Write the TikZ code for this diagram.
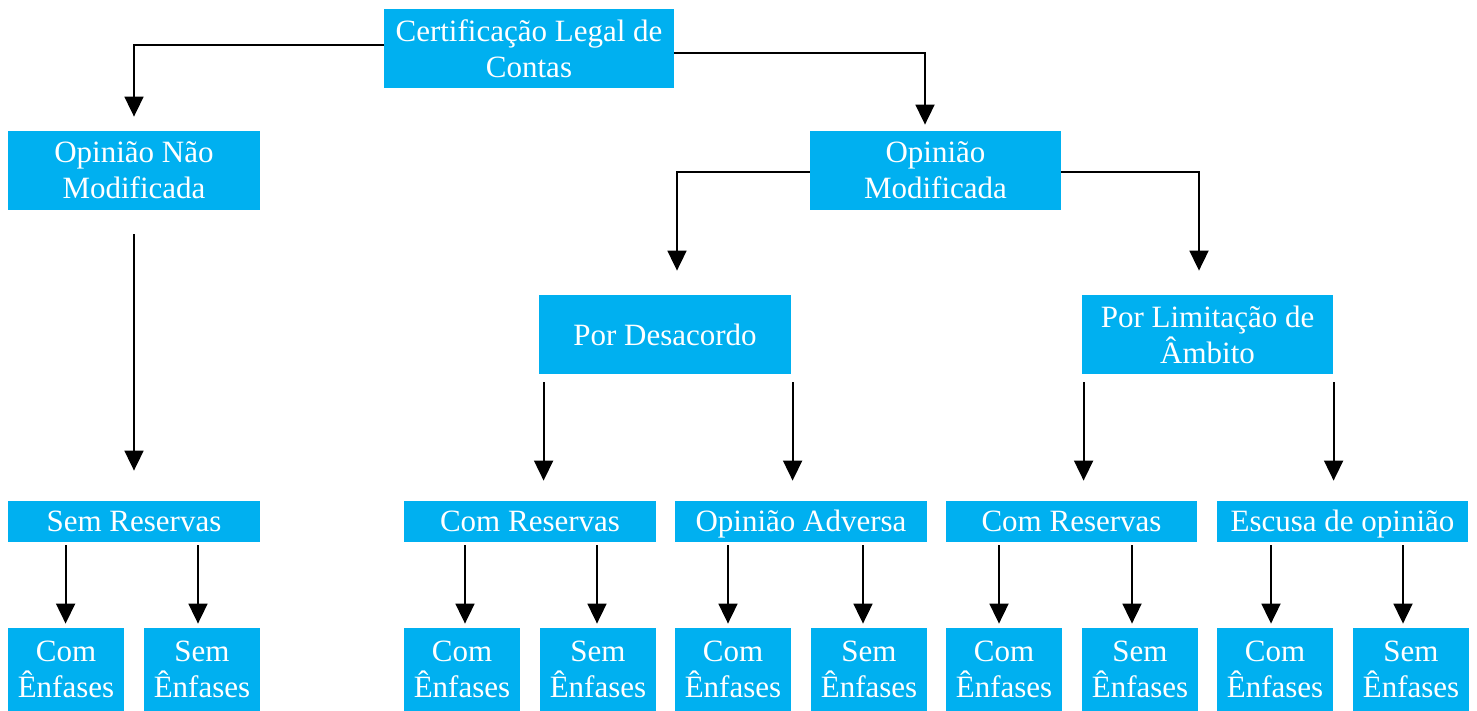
\documentclass[tikz,border=0pt]{standalone}
\usepackage{fontspec}
\setmainfont{Liberation Serif}
\usetikzlibrary{arrows.meta}
\definecolor{boxblue}{HTML}{00B0F0}
\begin{document}
\begin{tikzpicture}[x=0.5pt, y=-0.5pt,
  box/.style={rectangle, fill=boxblue, draw=none, inner sep=0pt, text=white,
    align=center, font=\fontsize{15.5}{18}\selectfont},
  wide/.style={box, minimum width=126pt, minimum height=39.5pt},
  bar/.style={box, minimum width=126pt, minimum height=20.5pt, text height=12pt, text depth=2pt},
  leaf/.style={box, minimum width=58pt, minimum height=41.5pt},
  arr/.style={line width=0.9pt, -{Triangle[width=9.5pt,length=10pt]}},
  low/.style={arr, shorten <=1.5pt, shorten >=2pt}]
\useasboundingbox (0,0) rectangle (1477,711);

% top level
\node[wide, minimum width=145pt] (cert) at (529,48.5) {Certificação Legal de\\Contas};
\node[wide] (onm) at (134,170.5) {Opinião Não\\Modificada};
\node[wide, minimum width=125.5pt] (om) at (935.5,170.5) {Opinião\\Modificada};

% second level
\node[wide] (pd) at (665,334.5) {Por Desacordo};
\node[wide, minimum width=125.5pt] (pl) at (1207.5,334.5) {Por Limitação de\\Âmbito};

% opinion types
\node[bar] (sr) at (134,521.5) {Sem Reservas};
\node[bar] (cr1) at (530,521.5) {Com Reservas};
\node[bar] (oa) at (801,521.5) {Opinião Adversa};
\node[bar, minimum width=125.5pt] (cr2) at (1071.5,521.5) {Com Reservas};
\node[bar, minimum width=125.5pt] (eo) at (1342.5,521.5) {Escusa de opinião};

% emphasis leaves
\node[leaf] (a1) at (66,669.5) {Com\\Ênfases};
\node[leaf] (a2) at (202,669.5) {Sem\\Ênfases};
\node[leaf] (b1) at (462,669.5) {Com\\Ênfases};
\node[leaf] (b2) at (598,669.5) {Sem\\Ênfases};
\node[leaf] (c1) at (733,669.5) {Com\\Ênfases};
\node[leaf] (c2) at (869,669.5) {Sem\\Ênfases};
\node[leaf] (d1) at (1004,669.5) {Com\\Ênfases};
\node[leaf] (d2) at (1140,669.5) {Sem\\Ênfases};
\node[leaf] (e1) at (1275,669.5) {Com\\Ênfases};
\node[leaf] (e2) at (1411,669.5) {Sem\\Ênfases};

% connectors from the root
\draw[arr, shorten >=7pt] ([yshift=1.75pt]cert.west) -| (onm.north);
\draw[arr, shorten >=3pt] ([yshift=-2.25pt]cert.east) -| ([xshift=-5.25pt]om.north);
\draw[arr, shorten <=12pt, shorten >=15pt] (onm) -- (sr);

% modified opinion branches
\draw[arr, shorten >=12pt] ([yshift=-0.75pt]om.west) -| ([xshift=6pt]pd.north);
\draw[arr, shorten >=12pt] ([yshift=-0.75pt]om.east) -| ([xshift=-4.25pt]pl.north);

\draw[arr, shorten <=4pt, shorten >=10pt] ([xshift=2.5pt]pd.south west) -- ([xshift=2.5pt]pd.south west |- cr1.north);
\draw[arr, shorten <=4pt, shorten >=10pt] ([xshift=0.6pt]pd.south east) -- ([xshift=0.6pt]pd.south east |- oa.north);
\draw[arr, shorten <=4pt, shorten >=10pt] ([xshift=1pt]pl.south west) -- ([xshift=1pt]pl.south west |- cr2.north);
\draw[arr, shorten <=4pt, shorten >=10pt] ([xshift=0.1pt]pl.south east) -- ([xshift=0.1pt]pl.south east |- eo.north);

% emphasis arrows
\draw[low] ([xshift=-0.2pt]a1.north |- sr.south) -- ([xshift=-0.2pt]a1.north);
\draw[low] ([xshift=-2pt]a2.north |- sr.south) -- ([xshift=-2pt]a2.north);
\draw[low] ([xshift=1.5pt]b1.north |- cr1.south) -- ([xshift=1.5pt]b1.north);
\draw[low] ([xshift=-0.5pt]b2.north |- cr1.south) -- ([xshift=-0.5pt]b2.north);
\draw[low] ([xshift=-2.5pt]c1.north |- oa.south) -- ([xshift=-2.5pt]c1.north);
\draw[low] ([xshift=-3pt]c2.north |- oa.south) -- ([xshift=-3pt]c2.north);
\draw[low] ([xshift=-2.5pt]d1.north |- cr2.south) -- ([xshift=-2.5pt]d1.north);
\draw[low] ([xshift=-4pt]d2.north |- cr2.south) -- ([xshift=-4pt]d2.north);
\draw[low] ([xshift=-2pt]e1.north |- eo.south) -- ([xshift=-2pt]e1.north);
\draw[low] ([xshift=-4pt]e2.north |- eo.south) -- ([xshift=-4pt]e2.north);
\end{tikzpicture}
\end{document}
